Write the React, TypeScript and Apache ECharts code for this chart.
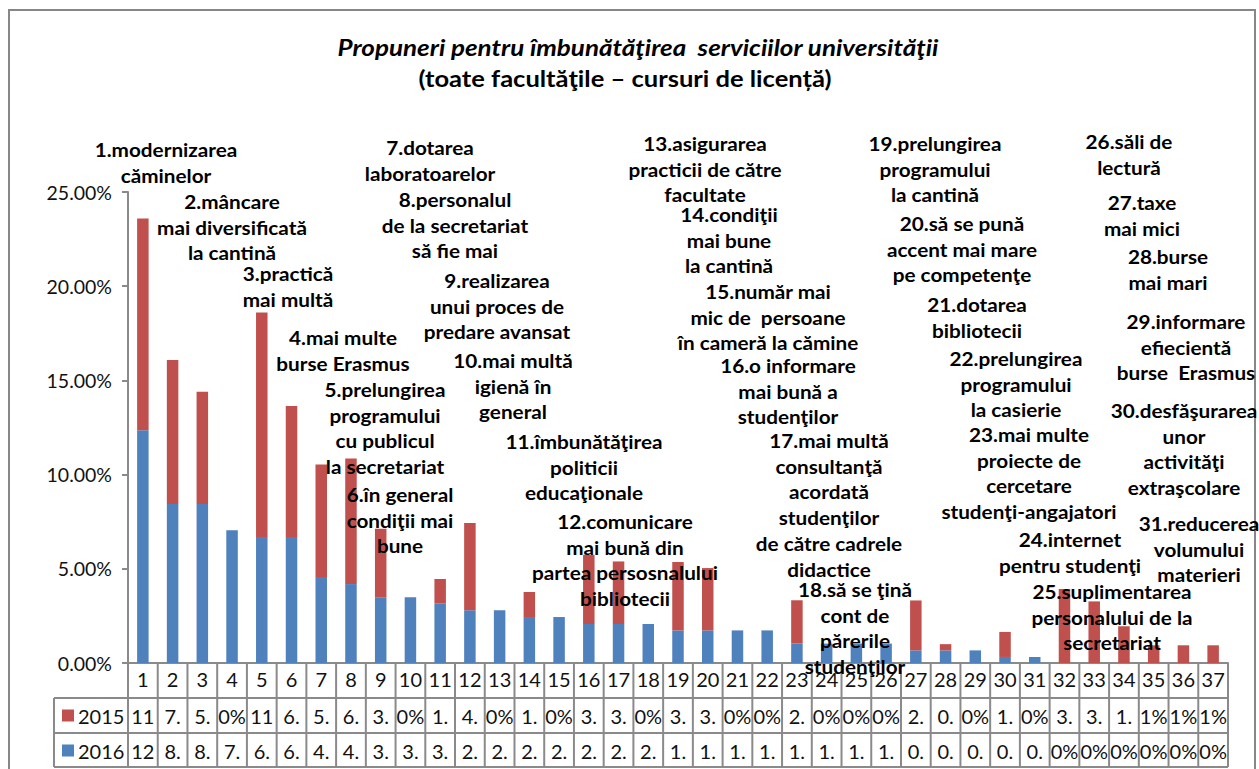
import React, { useEffect, useRef } from "react";
import * as echarts from "echarts";

const categories = ["1","2","3","4","5","6","7","8","9","10","11","12","13","14","15","16","17","18","19","20","21","22","23","24","25","26","27","28","29","30","31","32","33","34","35","36","37"];

const values2016 = [12.35, 8.44, 8.44, 7.04, 6.69, 6.69, 4.57, 4.19, 3.49, 3.49, 3.15, 2.8, 2.8, 2.44, 2.44, 2.07, 2.07, 2.07, 1.73, 1.73, 1.73, 1.73, 1.03, 1.03, 1.03, 1.03, 0.67, 0.67, 0.67, 0.32, 0.32, 0, 0, 0, 0, 0, 0];
const values2015 = [11.25, 7.64, 5.96, 0, 11.91, 6.95, 5.96, 6.66, 3.64, 0, 1.31, 4.63, 0, 1.33, 0, 3.67, 3.32, 0, 3.63, 3.31, 0, 0, 2.3, 0, 0, 0, 2.65, 0.33, 0, 1.33, 0, 3.93, 3.27, 1.95, 0.94, 0.94, 0.94];

const table2015 = ["11","7.","5.","0%","11","6.","5.","6.","3.","0%","1.","4.","0%","1.","0%","3.","3.","0%","3.","3.","0%","0%","2.","0%","0%","0%","2.","0.","0%","1.","0%","3.","3.","1.","1%","1%","1%"];
const table2016 = ["12","8.","8.","7.","6.","6.","4.","4.","3.","3.","3.","2.","2.","2.","2.","2.","2.","2.","1.","1.","1.","1.","1.","1.","1.","1.","0.","0.","0.","0.","0.","0%","0%","0%","0%","0%","0%"];

const seriesNames = ["2015", "2016"];
const yTicks = [0, 5, 10, 15, 20, 25];

const titleLine1 = "Propuneri pentru îmbunătăţirea  serviciilor universităţii";
const titleLine2 = "(toate facultăţile – cursuri de licență)";

const proposalLabels = [
  "1.modernizarea\ncăminelor",
  "2.mâncare\nmai diversificată\nla cantină",
  "3.practică\nmai multă",
  "4.mai multe\nburse Erasmus",
  "5.prelungirea\nprogramului\ncu publicul\nla secretariat",
  "6.în general\ncondiţii mai\nbune",
  "7.dotarea\nlaboratoarelor",
  "8.personalul\nde la secretariat\nsă fie mai",
  "9.realizarea\nunui proces de\npredare avansat",
  "10.mai multă\nigienă în\ngeneral",
  "11.îmbunătăţirea\npoliticii\neducaţionale",
  "12.comunicare\nmai bună din\npartea persosnalului\nbibliotecii",
  "13.asigurarea\npracticii de către\nfacultate",
  "14.condiţii\nmai bune\nla cantină",
  "15.număr mai\nmic de  persoane\nîn cameră la cămine",
  "16.o informare\nmai bună a\nstudenţilor",
  "17.mai multă\nconsultanţă\nacordată\nstudenţilor\nde către cadrele\ndidactice",
  "18.să se ţină\ncont de\npărerile\nstudenţilor",
  "19.prelungirea\nprogramului\nla cantină",
  "20.să se pună\naccent mai mare\npe competenţe",
  "21.dotarea\nbibliotecii",
  "22.prelungirea\nprogramului\nla casierie",
  "23.mai multe\nproiecte de\ncercetare\nstudenţi-angajatori",
  "24.internet\npentru studenţi",
  "25.suplimentarea\npersonalului de la\nsecretariat",
  "26.săli de\nlectură",
  "27.taxe\nmai mici",
  "28.burse\nmai mari",
  "29.informare\nefiecientă\nburse  Erasmus",
  "30.desfăşurarea\nunor\nactivităţi\nextraşcolare",
  "31.reducerea\nvolumului\nmaterieri",
];

// layout: [center x, first line center y]
const labelPos = [
  [166, 150], [232, 202], [288, 274], [343, 338], [385, 390], [400, 495],
  [430, 148], [455, 200], [497, 281], [513, 361], [584, 442], [625, 522],
  [705, 144], [729, 215], [768, 292], [788, 366], [829, 441], [855, 590],
  [935, 144], [962, 224], [977, 305], [1016, 359], [1029, 435], [1070, 540],
  [1112, 592], [1129, 142], [1142, 203], [1168, 257], [1186, 322], [1184, 411], [1199, 524],
];

const FONT = "Lato, 'Open Sans', sans-serif";
const GRAY = "#8a8a8a";
const RED = "#C0504D";
const BLUE = "#4F81BD";

export default function App() {
  const ref = useRef<HTMLDivElement>(null);
  useEffect(() => {
    document.body.style.margin = "0";
    const el = ref.current!;
    const chart = echarts.init(el, null, { renderer: "svg", width: 1259, height: 769 });
    const option: any = {
      animation: false,
      backgroundColor: "#ffffff",
      grid: { left: 128, top: 192, right: 31, bottom: 106, containLabel: false, outerBoundsMode: "none" },
      xAxis: {
        type: "category",
        data: categories,
        axisLine: { show: true, lineStyle: { color: GRAY, width: 2 } },
        axisTick: { show: false },
        axisLabel: { show: true, interval: 0, margin: 6, fontSize: 20, color: "#111", fontFamily: FONT },
      },
      yAxis: {
        type: "value",
        min: 0,
        max: 25,
        interval: 5,
        axisLine: { show: true, lineStyle: { color: GRAY, width: 2 } },
        axisTick: { show: true, length: 6, inside: false, lineStyle: { color: GRAY, width: 2 } },
        splitLine: { show: false },
        axisLabel: {
          fontSize: 19.5, color: "#111", fontFamily: FONT, margin: 16,
          formatter: (v: number) => (yTicks.includes(v) ? v.toFixed(2) + "%" : ""),
        },
      },
      series: [
        { name: seriesNames[1], type: "bar", stack: "t", data: values2016, barWidth: 11.5, itemStyle: { color: BLUE } },
        { name: seriesNames[0], type: "bar", stack: "t", data: values2015, barWidth: 11.5, itemStyle: { color: RED } },
      ],
    };
    chart.setOption(option);

    const xs = categories.map((c) => chart.convertToPixel({ xAxisIndex: 0 }, c) as number);
    const y0 = chart.convertToPixel({ yAxisIndex: 0 }, 0) as number;
    const half = (xs[1] - xs[0]) / 2;
    const tLeft = xs[0] - half;
    const tRight = xs[xs.length - 1] + half;
    const legendLeft = 54;
    const rowH = 35;
    const tBottom = y0 + 104;

    const g: any[] = [];
    g.push({ type: "rect", z: 1, shape: { x: 9, y: 10, width: 1246, height: 790 }, style: { fill: "none", stroke: "#878787", lineWidth: 2 } });
    g.push({ type: "text", z: 50, x: 638, y: 47, scaleX: 1.13, style: { text: titleLine1, font: `italic bold 23px ${FONT}`, fill: "#000", textAlign: "center", textVerticalAlign: "middle" } });
    g.push({ type: "text", z: 50, x: 625, y: 78, scaleX: 1.11, style: { text: titleLine2, font: `bold 23px ${FONT}`, fill: "#000", textAlign: "center", textVerticalAlign: "middle" } });

    // table lines
    [1, 2].forEach((k) => {
      g.push({ type: "line", z: 5, shape: { x1: legendLeft, y1: y0 + rowH * k, x2: tRight, y2: y0 + rowH * k }, style: { stroke: GRAY, lineWidth: 2 } });
    });
    g.push({ type: "line", z: 5, shape: { x1: legendLeft, y1: tBottom, x2: tRight, y2: tBottom }, style: { stroke: GRAY, lineWidth: 2 } });
    g.push({ type: "line", z: 5, shape: { x1: legendLeft, y1: y0 + rowH, x2: legendLeft, y2: tBottom }, style: { stroke: GRAY, lineWidth: 2 } });
    for (let i = 0; i <= xs.length; i++) {
      const x = tLeft + i * half * 2;
      g.push({ type: "line", z: 5, shape: { x1: x, y1: y0, x2: x, y2: tBottom }, style: { stroke: GRAY, lineWidth: 2 } });
    }
    // legend keys
    g.push({ type: "rect", z: 6, shape: { x: 62, y: y0 + rowH * 1.5 - 6, width: 12, height: 12 }, style: { fill: RED } });
    g.push({ type: "rect", z: 6, shape: { x: 62, y: y0 + rowH * 2.5 - 6, width: 12, height: 12 }, style: { fill: BLUE } });
    g.push({ type: "text", z: 6, x: 78, y: y0 + rowH * 1.5, style: { text: seriesNames[0], font: `20px ${FONT}`, fill: "#111", textAlign: "left", textVerticalAlign: "middle" } });
    g.push({ type: "text", z: 6, x: 78, y: y0 + rowH * 2.5, style: { text: seriesNames[1], font: `20px ${FONT}`, fill: "#111", textAlign: "left", textVerticalAlign: "middle" } });
    xs.forEach((x, i) => {
      g.push({ type: "text", z: 6, x, y: y0 + rowH * 1.5, style: { text: table2015[i], font: `20px ${FONT}`, fill: "#111", textAlign: "center", textVerticalAlign: "middle" } });
      g.push({ type: "text", z: 6, x, y: y0 + rowH * 2.5, style: { text: table2016[i], font: `20px ${FONT}`, fill: "#111", textAlign: "center", textVerticalAlign: "middle" } });
    });
    // annotations
    const LH = 25.7;
    proposalLabels.forEach((t, i) => {
      const [cx, cy] = labelPos[i];
      g.push({ type: "text", z: 100, x: cx, y: cy - LH / 2, scaleX: 1.12, style: { text: t, font: `bold 18.5px ${FONT}`, lineHeight: LH, fill: "#000", textAlign: "center", textVerticalAlign: "top", align: "center", verticalAlign: "top" } });
    });

    chart.setOption({ graphic: { elements: g } });
    return () => chart.dispose();
  }, []);
  return <div ref={ref} style={{ width: 1259, height: 769 }} />;
}
